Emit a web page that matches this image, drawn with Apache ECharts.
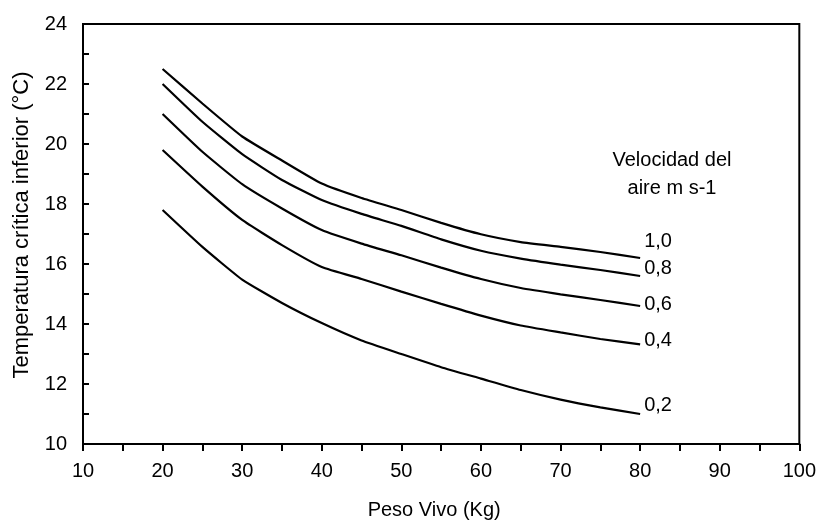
<!DOCTYPE html>
<html>
<head>
<meta charset="utf-8">
<script src="https://cdn.jsdelivr.net/npm/echarts@6/dist/echarts.min.js"></script>
<style>
  html, body { margin: 0; padding: 0; background: #fff; }
  #chart { width: 819px; height: 525px; }
</style>
</head>
<body>
<div id="chart"></div>
<script>
// 数据：体重 (kg) 与下限临界温度
const peso = [20, 25, 30, 35, 40, 45, 50, 55, 60, 65, 70, 75, 80];
const v10 = [22.5, 21.35, 20.25, 19.45, 18.68, 18.2, 17.8, 17.37, 16.99, 16.73, 16.57, 16.4, 16.2];
const v08 = [22.0, 20.74, 19.66, 18.8, 18.13, 17.67, 17.27, 16.82, 16.44, 16.18, 15.98, 15.8, 15.6];
const v06 = [21.0, 19.74, 18.66, 17.85, 17.13, 16.68, 16.29, 15.88, 15.5, 15.2, 14.99, 14.8, 14.6];
const v04 = [19.8, 18.58, 17.47, 16.63, 15.9, 15.5, 15.08, 14.67, 14.28, 13.95, 13.72, 13.5, 13.32];
const v02 = [17.8, 16.57, 15.48, 14.7, 14.03, 13.45, 13.0, 12.56, 12.18, 11.8, 11.48, 11.22, 11.0];
const curvas = [
  { name: "1,0", data: v10, dy: -17 },
  { name: "0,8", data: v08, dy: -8 },
  { name: "0,6", data: v06, dy: -2 },
  { name: "0,4", data: v04, dy: -4 },
  { name: "0,2", data: v02, dy: -9 },
];

const font = "'Liberation Sans', Arial, sans-serif";
const myChart = echarts.init(document.querySelector("#chart"));
const option = {
  animation: false,
  textStyle: { fontFamily: font },
  title: {
    text: "Velocidad del\naire m s-1",
    left: 672,
    top: 146,
    padding: 0,
    textAlign: "center",
    textStyle: {
      fontFamily: font,
      fontSize: 20,
      fontWeight: "normal",
      color: "#000",
      lineHeight: 28,
    },
  },
  grid: {
    left: 83,
    right: 18,
    top: 24,
    bottom: 79,
    show: true,
    borderColor: "#000",
    borderWidth: 2,
  },
  xAxis: {
    type: "value",
    min: 10,
    max: 100,
    interval: 5,
    name: "Peso Vivo (Kg)",
    nameLocation: "middle",
    nameGap: 56,
    nameTextStyle: { fontFamily: font, fontSize: 20, color: "#000", padding: [0, 14, 0, 0] },
    axisLine: { lineStyle: { color: "#000", width: 2 } },
    axisTick: { show: true, length: 7, lineStyle: { color: "#000", width: 2 } },
    axisLabel: {
      fontFamily: font,
      fontSize: 20,
      color: "#000",
      margin: 17,
      formatter: (v) => (v % 10 === 0 ? String(v) : ""),
    },
    splitLine: { show: false },
  },
  yAxis: {
    type: "value",
    min: 10,
    max: 24,
    interval: 1,
    name: "Temperatura crítica inferior (°C)",
    nameLocation: "middle",
    nameGap: 50,
    nameTextStyle: { fontFamily: font, fontSize: 22, color: "#000", padding: [0, 0, 0, 18] },
    axisLine: { lineStyle: { color: "#000", width: 2 } },
    axisTick: { show: true, inside: true, length: 6, lineStyle: { color: "#000", width: 2 } },
    axisLabel: {
      fontFamily: font,
      fontSize: 20,
      color: "#000",
      margin: 16,
      formatter: (v) => (v % 2 === 0 ? String(v) : ""),
    },
    splitLine: { show: false },
  },
  series: curvas.map((c) => ({
    name: c.name,
    type: "line",
    data: peso.map((x, i) => [x, c.data[i]]),
    showSymbol: false,
    symbol: "none",
    smooth: 0.15,
    lineStyle: { color: "#000", width: 2.2 },
    endLabel: {
      show: true,
      formatter: c.name,
      distance: 4,
      offset: [0, c.dy],
      fontFamily: font,
      fontSize: 20,
      color: "#000",
    },
  })),
};
myChart.setOption(option);
</script>
</body>
</html>
